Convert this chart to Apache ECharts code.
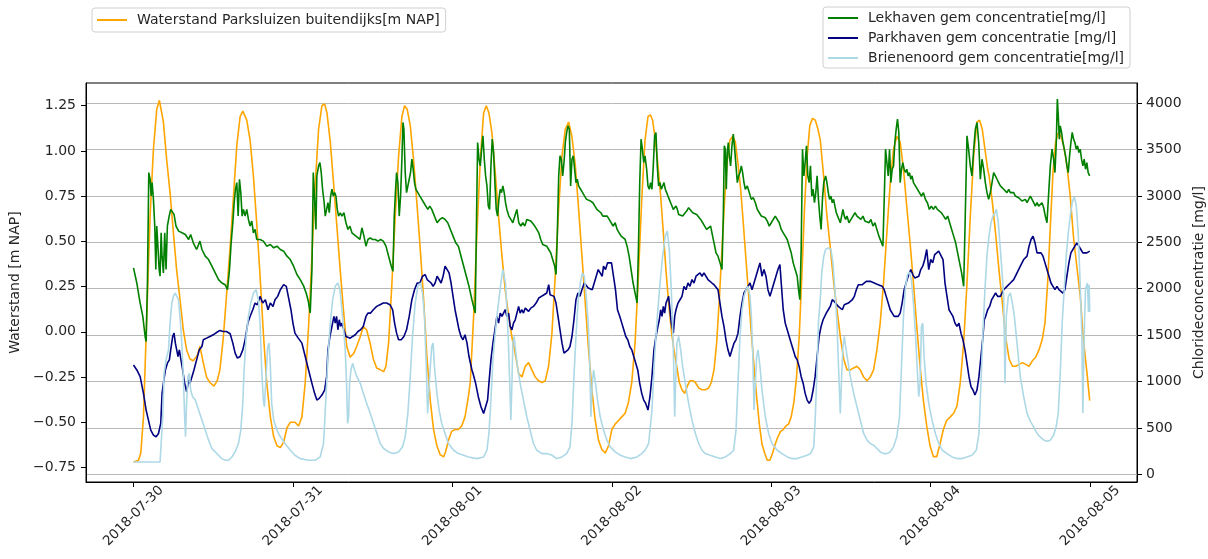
<!DOCTYPE html>
<html>
<head>
<meta charset="utf-8">
<script src="https://cdn.jsdelivr.net/npm/echarts@6/dist/echarts.min.js"></script>
<style>
  html, body { margin: 0; padding: 0; background: #ffffff; }
  #chart { width: 1208px; height: 559px; }
</style>
</head>
<body>
<div id="chart"></div>
<script>
// Time is given in hours after 2018-07-30 00:00.
const dayLabels = ['2018-07-30', '2018-07-31', '2018-08-01', '2018-08-02', '2018-08-03', '2018-08-04', '2018-08-05'];
const levelTicks = [-0.75, -0.5, -0.25, 0, 0.25, 0.5, 0.75, 1.0, 1.25];
const chlorideTicks = [0, 500, 1000, 1500, 2000, 2500, 3000, 3500, 4000];

const seriesNames = [
  'Waterstand Parksluizen buitendijks[m NAP]',
  'Lekhaven gem concentratie[mg/l]',
  'Parkhaven gem concentratie [mg/l]',
  'Brienenoord gem concentratie[mg/l]'
];

// Water level Parksluizen [m NAP]
const waterstand = [
  [0,-0.72],[0.75,-0.71],[1.1,-0.67],[1.5,-0.47],[2.0,0.09],[2.5,0.64],[3.0,1.01],[3.5,1.23],[3.9,1.28],[4.5,1.16],[5.0,0.95],[5.5,0.77],[6.0,0.55],[6.5,0.34],[7.0,0.18],[7.5,0.01],[8.0,-0.10],[8.5,-0.15],[9.0,-0.16],[9.6,-0.13],[10.0,-0.08],[10.5,-0.17],[11.0,-0.25],[11.5,-0.28],[12.1,-0.30],[12.6,-0.27],[13.0,-0.21],[13.5,-0.04],[14.0,0.20],[14.55,0.47],[15.05,0.75],[15.55,1.03],[16.05,1.19],[16.45,1.22],[17.05,1.17],[17.55,1.06],[18.05,0.86],[18.55,0.60],[19.05,0.31],[19.55,-0.01],[20.05,-0.28],[20.6,-0.47],[21.1,-0.58],[21.6,-0.63],[22.1,-0.64],[22.6,-0.61],[23.1,-0.53],[23.6,-0.50],[24.3,-0.50],
  [24.85,-0.52],[25.35,-0.47],[25.85,-0.28],[26.35,0.03],[26.86,0.42],[27.36,0.82],[27.86,1.12],[28.36,1.25],[28.77,1.26],[29.12,1.21],[29.62,1.05],[30.12,0.82],[30.62,0.58],[31.12,0.34],[31.6,0.12],[32.1,-0.08],[32.6,-0.14],[33.13,-0.12],[33.6,-0.08],[34.1,-0.03],[34.6,0.03],[35.1,0.01],[35.6,-0.06],[36.1,-0.15],[36.6,-0.20],[37.15,-0.21],[37.65,-0.22],[38.0,-0.19],[38.4,-0.06],[38.9,0.27],[39.4,0.64],[39.9,0.97],[40.4,1.19],[40.8,1.25],[41.2,1.23],[41.66,1.14],[42.16,0.95],[42.66,0.71],[43.16,0.46],[43.67,0.18],[44.17,-0.14],[44.67,-0.38],[45.17,-0.54],[45.67,-0.63],[46.17,-0.68],[46.7,-0.69],[47.0,-0.66],[47.4,-0.60],[47.9,-0.55],[48.4,-0.54],[48.9,-0.54],[49.4,-0.52],[49.9,-0.47],[50.4,-0.36],
  [50.69,-0.28],[51.2,0.09],[51.7,0.55],[52.2,0.95],[52.7,1.21],[53.1,1.25],[53.5,1.21],[53.95,1.10],[54.45,0.88],[54.95,0.64],[55.46,0.42],[55.96,0.23],[56.46,0.09],[56.96,-0.03],[57.46,-0.12],[57.97,-0.23],[58.47,-0.25],[58.97,-0.19],[59.47,-0.17],[59.97,-0.21],[60.47,-0.25],[60.98,-0.27],[61.48,-0.28],[61.98,-0.27],[62.48,-0.19],[62.98,-0.01],[63.48,0.31],[63.99,0.68],[64.49,0.97],[64.99,1.12],[65.49,1.16],[65.99,1.08],[66.5,0.92],[67.0,0.68],[67.5,0.42],[68.0,0.16],[68.5,-0.10],[69.0,-0.32],[69.5,-0.49],[70.0,-0.60],[70.5,-0.65],[71.0,-0.67],[71.5,-0.63],[72.0,-0.54],[72.5,-0.51],[73.0,-0.49],[73.5,-0.47],[74.0,-0.45],[74.5,-0.39],[75.0,-0.28],[75.5,-0.06],[76.0,0.31],[76.5,0.73],[77.0,1.06],
  [77.44,1.19],[77.8,1.20],[78.14,1.17],[78.55,1.06],[78.95,0.92],[79.35,0.75],[79.75,0.55],[80.15,0.34],[80.55,0.16],[80.95,0.01],[81.35,-0.10],[81.76,-0.19],[82.16,-0.28],[82.56,-0.32],[82.96,-0.34],[83.36,-0.30],[83.76,-0.27],[84.17,-0.27],[84.57,-0.28],[85.07,-0.31],[85.57,-0.32],[86.07,-0.32],[86.57,-0.31],[86.97,-0.28],[87.38,-0.21],[87.78,-0.06],[88.18,0.18],[88.58,0.46],[88.98,0.73],[89.38,0.95],[89.78,1.06],[90.19,1.08],[90.59,1.05],[90.99,0.93],[91.39,0.79],[91.79,0.60],[92.19,0.40],[92.6,0.20],[93.0,-0.01],[93.4,-0.19],[93.8,-0.36],[94.2,-0.51],[94.6,-0.62],[95.0,-0.67],[95.4,-0.71],[95.8,-0.71],[96.2,-0.67],[96.6,-0.62],[97.0,-0.58],[97.4,-0.55],[97.8,-0.54],[98.2,-0.52],[98.6,-0.51],[99.0,-0.47],[99.4,-0.39],[99.8,-0.25],[100.2,-0.03],[100.6,0.31],[101.0,0.68],[101.4,0.97],[101.8,1.14],[102.2,1.18],[102.63,1.17],[103.03,1.12],
  [103.38,1.06],[103.88,0.86],[104.38,0.64],[104.9,0.46],[105.4,0.27],[105.9,0.12],[106.4,-0.03],[106.9,-0.15],[107.4,-0.21],[107.9,-0.21],[108.4,-0.20],[108.9,-0.19],[109.4,-0.21],[109.9,-0.25],[110.4,-0.27],[110.9,-0.25],[111.4,-0.21],[111.9,-0.10],[112.4,0.05],[112.9,0.27],[113.4,0.55],[113.9,0.82],[114.4,1.01],[114.9,1.08],[115.4,1.05],[115.9,0.90],[116.4,0.69],[116.9,0.49],[117.4,0.27],[117.9,0.03],[118.4,-0.19],[118.9,-0.38],[119.4,-0.52],[119.9,-0.63],[120.4,-0.69],[120.9,-0.69],[121.4,-0.62],[121.9,-0.54],[122.4,-0.49],[122.95,-0.47],[123.45,-0.45],[123.95,-0.41],[124.45,-0.28],[124.96,-0.06],[125.46,0.27],[125.96,0.64],[126.46,0.97],[126.96,1.16],[127.36,1.17],[127.76,1.12],[128.16,1.01],[128.57,0.90],
  [128.8,0.86],[129.3,0.71],[129.8,0.53],[130.28,0.34],[130.78,0.16],[131.28,-0.03],[131.8,-0.15],[132.3,-0.19],[132.8,-0.19],[133.3,-0.18],[133.8,-0.17],[134.3,-0.18],[134.8,-0.19],[135.3,-0.16],[135.8,-0.14],[136.3,-0.10],[136.8,-0.04],[137.2,0.05],[137.6,0.27],[138.0,0.58],[138.4,0.88],[138.8,1.05],[139.2,1.10],[139.6,1.08],[140.0,1.03],[140.5,0.92],[141.0,0.75],[141.5,0.52],[142.0,0.36],[142.5,0.20],[143.0,-0.05],[143.5,-0.22],[143.93,-0.38]
];

// Chloride Lekhaven [mg/l]
const lekhaven = [
  [0,2224],[0.5,2061],[1.0,1845],[1.4,1701],[1.75,1485],[1.9,1431],[2.1,2061],[2.3,3251],[2.5,3179],[2.66,2998],[2.8,3143],[3.0,2962],[3.2,2674],[3.36,2206],[3.5,2674],[3.7,2422],[3.86,2206],[4.0,2134],[4.16,2602],[4.3,2350],[4.5,2170],[4.7,2602],[4.9,2206],[5.1,2674],[5.37,2782],[5.6,2854],[5.87,2872],[6.1,2800],[6.4,2674],[6.8,2620],[7.3,2602],[7.8,2584],[8.3,2530],[8.6,2584],[9.0,2494],[9.5,2422],[10.0,2512],[10.3,2422],[10.8,2350],[11.3,2314],[11.8,2242],[12.3,2170],[12.8,2098],[13.3,2061],[13.8,2043],[14.15,1989],[14.45,2206],[14.7,2494],[14.95,2710],[15.15,2926],[15.35,3071],[15.55,3143],[15.75,2782],[15.95,3179],[16.15,3035],[16.35,2782],[16.55,2854],[16.8,2782],[17.05,2854],[17.3,2746],[17.55,2674],[17.8,2728],[18.05,2602],[18.3,2638],[18.55,2530],[19.05,2530],[19.55,2512],[20.05,2458],[20.6,2476],[21.1,2440],[21.6,2458],[22.1,2422],[22.6,2404],[23.1,2350],[23.6,2314],[24.1,2242],
  [24.6,2152],[25.1,2098],[25.6,2030],[26.0,1950],[26.3,1870],[26.6,1737],[26.86,2206],[27.06,3251],[27.26,2962],[27.46,2638],[27.6,3215],[27.86,3323],[28.06,3359],[28.26,3251],[28.46,3071],[28.7,2926],[28.86,2782],[29.07,2854],[29.27,2926],[29.47,2818],[29.67,2998],[29.87,3071],[30.07,2998],[30.27,3035],[30.47,2998],[30.67,2854],[30.87,2782],[31.12,2818],[31.37,2782],[31.67,2818],[31.98,2710],[32.28,2638],[32.58,2674],[32.88,2602],[33.18,2620],[33.48,2566],[33.78,2584],[34.08,2530],[34.38,2656],[34.69,2566],[34.99,2458],[35.29,2530],[35.64,2548],[35.99,2530],[36.39,2530],[36.8,2512],[37.2,2530],[37.6,2512],[38.0,2458],[38.4,2350],[38.8,2242],[39.05,2188],[39.25,2782],[39.45,3071],[39.6,3251],[39.8,3143],[40.0,2782],[40.2,2998],[40.4,3395],[40.56,3791],[40.7,3719],[40.9,3251],[41.1,3035],[41.3,3107],[41.5,3179],[41.7,3251],[41.9,3395],[42.1,3287],[42.3,3143],[42.5,3071],[42.8,3035],[43.1,2998],[43.4,2962],[43.7,2926],[44.0,2890],[44.3,2854],[44.6,2890],[44.9,2854],[45.3,2782],[45.7,2710],[46.1,2746],[46.5,2764],[46.9,2746],[47.3,2710],[47.7,2638],[48.1,2566],[48.5,2494],[48.9,2458],[49.3,2350],[49.7,2242],[50.1,2134],[50.5,2025],[50.94,1881],[51.44,1737],
  [51.64,2782],[51.8,3575],[52.0,3395],[52.2,3323],[52.4,3503],[52.6,3647],[52.8,3395],[53.0,3215],[53.2,3107],[53.4,2890],[53.6,2854],[53.8,3323],[54.0,3611],[54.2,3467],[54.4,3143],[54.6,2854],[54.8,2782],[55.0,2962],[55.2,3071],[55.4,3035],[55.6,3107],[55.8,3035],[56.0,2926],[56.2,2854],[56.5,2782],[56.8,2746],[57.1,2710],[57.4,2782],[57.7,2854],[58.0,2710],[58.3,2674],[58.6,2710],[58.9,2674],[59.2,2746],[59.5,2764],[59.8,2728],[60.1,2710],[60.4,2674],[60.7,2638],[61.0,2602],[61.3,2530],[61.6,2476],[61.9,2494],[62.2,2458],[62.5,2422],[62.8,2386],[63.1,2314],[63.4,2242],[63.6,2152],[63.8,2602],[64.0,3215],[64.2,3431],[64.4,3395],[64.6,3215],[64.8,3359],[65.0,3575],[65.2,3683],[65.4,3755],[65.6,3719],[65.8,3107],[66.0,3395],[66.2,3431],[66.4,3287],[66.6,3143],[66.8,3179],[67.0,3107],[67.3,3071],[67.6,3035],[67.9,2998],[68.2,2962],[68.5,2980],[68.8,2944],[69.15,2926],[69.45,2890],[69.75,2854],[70.05,2854],[70.35,2818],[70.65,2782],[70.95,2764],[71.3,2782],[71.6,2746],[71.9,2710],[72.2,2674],[72.5,2710],[72.8,2638],[73.1,2602],[73.4,2566],[73.7,2566],[74.0,2530],[74.3,2458],[74.6,2350],[74.9,2206],[75.2,2061],[75.5,1953],[75.8,1845],[76.0,2422],[76.2,3143],[76.4,3611],[76.6,3503],[76.8,3359],[77.0,3431],
  [77.24,3287],[77.44,3107],[77.64,3071],[77.84,3143],[78.04,3071],[78.24,3323],[78.44,3647],[78.64,3683],[78.84,3323],[79.04,3107],[79.24,3143],[79.45,3071],[79.65,3107],[79.85,3143],[80.05,3071],[80.25,3035],[80.45,2998],[80.65,2962],[80.85,2926],[81.05,2890],[81.25,2854],[81.45,2836],[81.66,2890],[81.86,2854],[82.06,2800],[82.36,2818],[82.66,2782],[82.96,2800],[83.26,2836],[83.56,2872],[83.86,2854],[84.17,2818],[84.47,2836],[84.77,2800],[85.07,2782],[85.37,2746],[85.67,2710],[85.97,2674],[86.27,2638],[86.57,2620],[86.87,2674],[87.07,2602],[87.38,2494],[87.68,2386],[87.98,2350],[88.28,2278],[88.58,2206],[88.78,2782],[88.93,3539],[89.08,3503],[89.23,3071],[89.38,3467],[89.53,3575],[89.68,3431],[89.88,3323],[90.08,3539],[90.28,3665],[90.49,3503],[90.69,3323],[90.89,3143],[91.09,3215],[91.29,3251],[91.49,3323],[91.69,3251],[91.89,3143],[92.09,3071],[92.39,3107],[92.69,3035],[92.99,2962],[93.3,2980],[93.6,2926],[93.9,2854],[94.2,2818],[94.5,2782],[94.8,2800],[95.1,2764],[95.4,2728],[95.7,2674],[96.0,2710],[96.3,2746],[96.6,2782],[96.9,2764],[97.2,2710],[97.5,2638],[97.8,2602],[98.1,2566],[98.4,2530],[98.7,2458],[99.0,2386],[99.3,2278],[99.6,2206],[99.9,2134],[100.1,1989],[100.3,1881],[100.5,2422],[100.7,3503],[100.9,3215],[101.1,3359],[101.3,3539],[101.5,3215],[101.7,3143],[101.9,3323],[102.1,2998],[102.3,3071],[102.5,2926],[102.7,3035],[102.9,3215],[103.1,2962],[103.3,2782],[103.5,2638],[103.7,2962],[103.9,3143],
  [104.18,3215],[104.38,3143],[104.58,3035],[104.78,2962],[104.98,2998],[105.18,2926],[105.38,2962],[105.58,2890],[105.79,2818],[105.99,2782],[106.19,2746],[106.39,2710],[106.59,2782],[106.79,2854],[106.99,2782],[107.19,2746],[107.39,2782],[107.7,2710],[108.0,2746],[108.3,2782],[108.6,2818],[108.9,2782],[109.2,2800],[109.5,2746],[109.8,2782],[110.1,2728],[110.4,2746],[110.7,2710],[111.0,2746],[111.3,2674],[111.6,2710],[111.9,2638],[112.2,2566],[112.5,2512],[112.8,2458],[113.0,2962],[113.2,3503],[113.4,3359],[113.6,3215],[113.8,3503],[114.0,3143],[114.2,3287],[114.4,3323],[114.6,3575],[114.8,3719],[115.0,3827],[115.2,3683],[115.4,3143],[115.6,3287],[115.8,3359],[116.0,3287],[116.2,3251],[116.4,3287],[116.6,3215],[116.8,3251],[117.0,3179],[117.2,3215],[117.4,3143],[117.7,3107],[118.0,3071],[118.3,3035],[118.6,2998],[118.9,3035],[119.2,2962],[119.5,2926],[119.8,2854],[120.1,2890],[120.4,2854],[120.7,2890],[121.0,2854],[121.3,2872],[121.6,2818],[121.95,2782],[122.25,2746],[122.55,2782],[122.85,2710],[123.15,2638],[123.45,2566],[123.75,2494],[124.05,2386],[124.35,2278],[124.65,2170],[124.96,2025],
  [125.2,2782],[125.46,3647],[125.7,3503],[125.96,3323],[126.2,3215],[126.47,3503],[126.72,3719],[126.97,3791],[127.22,3575],[127.47,3179],[127.72,3395],[127.97,3287],[128.22,3143],[128.47,3035],[128.72,2962],[128.97,3035],[129.23,3143],[129.48,3251],[129.73,3215],[129.98,3179],[130.23,3143],[130.48,3107],[130.73,3125],[130.98,3071],[131.23,3071],[131.48,3035],[131.74,3071],[131.99,3035],[132.24,3017],[132.49,3035],[132.74,2998],[132.99,2998],[133.24,2980],[133.49,2962],[133.74,2944],[133.99,2926],[134.24,2962],[134.5,2926],[134.75,2962],[135.0,2998],[135.25,2962],[135.5,2926],[135.75,2890],[136.0,2926],[136.25,2890],[136.5,2908],[136.75,2926],[137.0,2872],[137.25,2782],[137.5,2710],[137.76,3035],[138.0,3323],[138.26,3503],[138.5,3395],[138.7,3251],[138.9,3575],[139.06,4044],[139.2,3863],[139.36,3611],[139.5,3755],[139.7,3683],[139.9,3575],[140.1,3503],[140.3,3431],[140.5,3323],[140.7,3251],[140.9,3431],[141.1,3575],[141.3,3683],[141.5,3611],[141.7,3575],[141.9,3503],[142.1,3539],[142.3,3467],[142.5,3503],[142.7,3395],[142.9,3323],[143.1,3395],[143.3,3287],[143.5,3359],[143.7,3251],[143.93,3215]
];

// Chloride Parkhaven [mg/l]
const parkhaven = [
  [0,1178],[0.5,1124],[1.0,1052],[1.5,872],[1.9,692],[2.25,584],[2.6,476],[3.0,422],[3.4,404],[3.76,440],[4.1,548],[4.3,872],[4.5,980],[4.8,1124],[5.1,1197],[5.4,1233],[5.6,1341],[5.9,1485],[6.1,1521],[6.3,1413],[6.5,1341],[6.7,1269],[6.9,1341],[7.1,1251],[7.4,1124],[7.7,980],[8.0,890],[8.3,1016],[8.5,980],[8.8,1052],[9.1,1124],[9.5,1233],[9.9,1341],[10.3,1377],[10.5,1449],[11.0,1467],[11.5,1485],[12.0,1503],[12.5,1528],[13.0,1550],[13.5,1539],[14.0,1539],[14.55,1514],[14.95,1413],[15.3,1305],[15.65,1251],[16.05,1269],[16.45,1341],[16.8,1449],[17.2,1629],[17.55,1701],[17.95,1773],[18.3,1845],[18.65,1827],[19.05,1917],[19.45,1845],[19.85,1881],[20.25,1773],[20.6,1845],[21.0,1809],[21.3,1881],[21.7,1917],[22.1,1989],[22.6,2043],[23.0,2025],[23.3,1917],[23.7,1773],[24.0,1629],[24.3,1521],[24.8,1467],
  [25.35,1413],[25.85,1269],[26.35,1124],[26.86,980],[27.26,872],[27.6,800],[27.96,818],[28.36,854],[28.77,908],[29.07,1052],[29.27,1341],[29.57,1485],[29.87,1593],[30.17,1701],[30.37,1629],[30.57,1701],[30.77,1557],[30.97,1665],[31.17,1593],[31.37,1629],[31.67,1557],[31.98,1485],[32.28,1467],[32.63,1467],[32.98,1485],[33.38,1503],[33.78,1539],[34.18,1557],[34.58,1593],[34.99,1701],[35.29,1737],[35.69,1737],[36.1,1773],[36.6,1809],[37.1,1827],[37.6,1845],[38.1,1845],[38.6,1827],[39.0,1773],[39.3,1629],[39.6,1521],[39.9,1449],[40.3,1449],[40.7,1485],[41.1,1557],[41.5,1701],[41.9,1881],[42.3,1989],[42.7,2061],[43.1,2061],[43.5,2134],[43.9,2152],[44.2,2098],[44.5,2116],[44.8,2061],[45.1,2025],[45.4,2061],[45.7,2134],[46.0,2134],[46.3,2061],[46.6,2134],[46.9,2242],[47.2,2260],[47.5,2170],[47.8,2061],[48.1,1917],[48.4,1773],[48.7,1665],[49.0,1557],[49.3,1485],[49.6,1449],[49.9,1503],[50.2,1413],[50.5,1269],[50.94,1124],
  [51.1,1088],[51.5,980],[51.9,836],[52.3,728],[52.7,656],[53.0,674],[53.3,800],[53.5,980],[53.8,1233],[54.1,1413],[54.4,1557],[54.7,1701],[54.95,1629],[55.2,1737],[55.46,1701],[55.7,1737],[55.96,1773],[56.2,1701],[56.46,1737],[56.7,1593],[56.96,1557],[57.2,1629],[57.46,1665],[57.7,1683],[57.97,1809],[58.2,1737],[58.47,1773],[58.7,1737],[58.97,1791],[59.2,1773],[59.47,1755],[59.8,1791],[60.2,1809],[60.6,1845],[61.0,1899],[61.4,1917],[61.8,1935],[62.2,1953],[62.5,2043],[62.7,1935],[63.0,1953],[63.3,1917],[63.6,1845],[63.9,1701],[64.2,1557],[64.5,1413],[64.8,1305],[65.1,1305],[65.4,1341],[65.7,1377],[66.0,1485],[66.3,1665],[66.6,1881],[66.9,1953],[67.2,1917],[67.5,1989],[67.85,2061],[68.15,2043],[68.45,2007],[68.75,1989],[69.05,1989],[69.35,2061],[69.65,2134],[69.95,2206],[70.25,2206],[70.55,2134],[70.75,2242],[71.05,2206],[71.35,2278],[71.65,2296],[71.95,2278],[72.25,2278],[72.55,1989],[72.85,1773],[73.2,1701],[73.5,1629],[73.8,1557],[74.1,1485],[74.4,1449],[74.7,1377],[75.0,1341],[75.3,1269],[75.6,1197],[75.9,1124],[76.2,980],[76.5,872],[76.8,800],[77.1,764],
  [77.44,692],[77.74,836],[78.04,1052],[78.34,1341],[78.64,1485],[78.94,1593],[79.15,1665],[79.35,1773],[79.55,1701],[79.75,1809],[79.95,1737],[80.15,1845],[80.35,1881],[80.55,1917],[80.75,1773],[80.95,1629],[81.26,1521],[81.46,1701],[81.66,1773],[81.96,1845],[82.26,1881],[82.56,1917],[82.86,2025],[83.16,1989],[83.46,2061],[83.76,2025],[84.06,2098],[84.37,2061],[84.67,2134],[84.97,2152],[85.27,2170],[85.57,2134],[85.87,2170],[86.17,2134],[86.47,2098],[86.77,2079],[87.07,2061],[87.38,2043],[87.68,2061],[87.98,1989],[88.28,1845],[88.58,1701],[88.88,1593],[89.18,1449],[89.48,1341],[89.78,1269],[90.08,1341],[90.39,1413],[90.69,1449],[90.99,1521],[91.29,1701],[91.59,1845],[91.89,1953],[92.19,1989],[92.5,2025],[92.8,2061],[93.1,1989],[93.4,2061],[93.7,2134],[94.0,2206],[94.3,2278],[94.6,2134],[94.9,2206],[95.2,2134],[95.5,1989],[95.8,1917],[96.1,1989],[96.4,2061],[96.7,2134],[97.0,2206],[97.3,2260],[97.5,2061],[97.8,1773],[98.1,1629],[98.4,1557],[98.7,1485],[99.0,1413],[99.3,1341],[99.6,1269],[99.9,1233],[100.2,1160],[100.5,1052],[100.8,980],[101.1,872],[101.4,800],[101.7,764],[102.0,800],[102.3,908],[102.6,1052],[102.9,1269],[103.2,1485],[103.5,1593],[103.8,1665],
  [104.28,1737],[104.58,1773],[104.88,1809],[105.18,1881],[105.49,1863],[105.79,1845],[106.09,1809],[106.39,1791],[106.69,1773],[106.99,1827],[107.29,1809],[107.6,1845],[107.9,1827],[108.2,1881],[108.5,1917],[108.8,1989],[109.1,2043],[109.4,2061],[109.7,2043],[110.0,2061],[110.3,2079],[110.6,2098],[110.9,2079],[111.2,2079],[111.5,2061],[111.8,2061],[112.1,2043],[112.4,2025],[112.7,2025],[113.0,1989],[113.3,1917],[113.6,1845],[113.9,1773],[114.2,1737],[114.5,1701],[114.8,1683],[115.1,1701],[115.4,1737],[115.7,1845],[116.0,1989],[116.3,2061],[116.6,2134],[116.8,2152],[117.0,2206],[117.3,2152],[117.6,2116],[117.9,2098],[118.2,2134],[118.5,2206],[118.8,2242],[119.1,2314],[119.4,2422],[119.7,2206],[120.0,2314],[120.3,2278],[120.6,2368],[120.9,2350],[121.2,2404],[121.5,2386],[121.85,2314],[122.15,2061],[122.45,1917],[122.75,1773],[123.05,1737],[123.35,1701],[123.65,1629],[123.95,1593],[124.25,1629],[124.55,1521],[124.85,1449],[125.16,1341],[125.46,1197],[125.76,1052],[126.06,944],[126.36,908],[126.66,854],[126.96,908],[127.26,1052],[127.56,1269],[127.86,1485],[128.06,1665],[128.26,1701],[128.57,1773],[128.87,1809],[129.17,1881],[129.47,1917],[129.77,1953],[130.07,1917],
  [130.48,1917],[130.98,1989],[131.48,2025],[131.99,2061],[132.49,2098],[132.99,2170],[133.49,2242],[133.99,2314],[134.5,2350],[134.8,2458],[135.1,2530],[135.4,2566],[135.7,2494],[136.0,2386],[136.3,2368],[136.6,2386],[136.9,2350],[137.2,2278],[137.5,2206],[137.8,2134],[138.1,2061],[138.4,2025],[138.7,1989],[139.0,2025],[139.3,1989],[139.6,2007],[139.9,1953],[140.2,1989],[140.5,2134],[140.8,2278],[141.1,2386],[141.4,2422],[141.7,2440],[142.0,2494],[142.3,2458],[142.6,2422],[142.9,2386],[143.2,2368],[143.5,2386],[143.93,2404]
];

// Chloride Brienenoord [mg/l]
const brienenoord = [
  [0,133],[1,133],[2,133],[3,133],[4,133],[4.26,151],[4.4,620],[4.6,1088],[4.9,1233],[5.27,1341],[5.5,1629],[5.77,1845],[6.0,1917],[6.27,1953],[6.5,1971],[6.77,1881],[7.0,1701],[7.27,1413],[7.5,1052],[7.7,620],[7.83,404],[8.0,800],[8.2,1052],[8.4,1088],[8.6,908],[8.9,836],[9.3,800],[9.8,692],[10.3,584],[10.8,476],[11.3,368],[11.8,278],[12.3,241],[12.8,205],[13.3,169],[13.8,151],[14.3,151],[14.8,187],[15.3,241],[15.8,332],[16.15,476],[16.45,764],[16.65,1124],[16.95,1485],[17.3,1701],[17.65,1845],[18.05,1953],[18.45,1989],[18.8,1881],[19.05,1629],[19.3,1124],[19.55,800],[19.7,728],[19.9,980],[20.2,1377],[20.4,1413],[20.6,1160],[20.8,764],[21.1,584],[21.6,476],[22.1,404],[22.8,332],[23.6,259],[24.3,205],[25.1,169],
  [26.35,151],[27.36,151],[28.1,187],[28.6,332],[28.95,800],[29.27,1269],[29.62,1629],[29.97,1881],[30.37,2025],[30.77,2061],[31.07,1989],[31.37,1773],[31.67,1521],[31.87,1341],[32.07,980],[32.23,548],[32.38,620],[32.53,980],[32.73,1124],[32.98,1197],[33.28,1124],[33.63,1052],[34.13,980],[34.6,872],[35.1,764],[35.64,656],[36.14,548],[36.64,440],[37.15,332],[37.65,278],[38.4,241],[39.15,223],[39.9,241],[40.5,296],[40.9,404],[41.3,656],[41.66,1052],[42.0,1485],[42.4,1845],[42.8,2025],[43.2,2061],[43.5,1953],[43.8,1701],[44.07,1160],[44.27,656],[44.4,656],[44.67,1160],[44.9,1377],[45.1,1413],[45.3,1160],[45.67,872],[46.0,692],[46.4,548],[46.9,440],[47.4,332],[48.2,259],[48.9,223],[49.7,205],[50.4,187],
  [51.7,169],[52.7,187],[53.2,259],[53.5,440],[53.8,800],[54.1,1233],[54.4,1485],[54.7,1701],[55.0,1881],[55.3,2061],[55.6,2206],[55.8,2224],[56.0,2061],[56.2,1773],[56.4,1485],[56.6,1052],[56.8,584],[56.96,980],[57.1,1413],[57.3,1485],[57.5,1341],[57.8,1160],[58.2,980],[58.7,800],[59.2,620],[59.7,476],[60.2,332],[60.7,259],[61.5,223],[62.2,223],[63.0,205],[63.7,169],[64.5,187],[65.2,223],[65.7,296],[66.0,548],[66.3,1052],[66.6,1485],[66.9,1845],[67.25,2061],[67.55,2170],[67.85,2134],[68.15,1917],[68.45,1629],[68.65,1269],[68.85,620],[69.05,980],[69.25,1124],[69.55,980],[69.85,800],[70.25,620],[70.75,476],[71.26,368],[71.76,296],[72.5,241],[73.3,205],[74.0,187],[74.8,169],[75.8,187],[76.5,223],[77.0,259],[77.54,332],
  [78.04,692],[78.44,1269],[78.85,1701],[79.25,2061],[79.65,2350],[80.05,2566],[80.35,2620],[80.65,2422],[80.95,1989],[81.26,1341],[81.46,620],[81.6,980],[81.8,1413],[82.06,1485],[82.36,1341],[82.66,1160],[83.06,980],[83.56,764],[84.06,584],[84.57,440],[85.07,332],[85.57,259],[86.07,223],[86.82,205],[87.58,187],[88.33,169],[89.08,187],[89.83,223],[90.34,259],[90.69,476],[90.99,980],[91.29,1485],[91.59,1773],[91.89,1917],[92.19,1989],[92.5,2025],[92.8,1917],[93.0,1701],[93.2,1341],[93.4,692],[93.6,980],[93.8,1269],[94.0,1341],[94.3,1160],[94.6,908],[95.1,620],[95.6,440],[96.1,332],[96.9,259],[97.6,223],[98.4,187],[99.1,169],[99.9,169],[100.6,187],[101.4,205],[101.9,223],[102.4,296],[102.63,620],[102.9,1160],[103.1,1629],[103.4,1917],[103.6,2170],[103.9,2350],
  [104.18,2422],[104.58,2440],[104.98,2422],[105.28,2278],[105.58,1989],[105.89,1629],[106.14,1124],[106.39,656],[106.59,1052],[106.79,1377],[106.99,1485],[107.19,1377],[107.5,1233],[107.9,1052],[108.4,872],[108.9,728],[109.4,584],[109.9,440],[110.4,368],[110.9,332],[111.4,314],[111.9,278],[112.4,241],[112.9,223],[113.4,223],[113.9,241],[114.4,296],[114.9,404],[115.3,620],[115.6,1160],[115.9,1701],[116.2,2020],[116.5,2150],[116.8,2180],[117.1,2090],[117.4,1845],[117.7,1521],[118.0,1088],[118.2,836],[118.4,980],[118.6,1593],[118.8,1629],[119.0,1269],[119.3,980],[119.7,764],[120.2,584],[120.7,440],[121.2,332],[121.75,259],[122.45,223],[123.2,187],[123.95,169],[124.7,169],[125.46,187],[126.2,205],[126.86,259],[127.26,440],[127.56,980],[127.86,1521],[128.16,1989],[128.46,2350],[128.77,2566],[129.07,2710],[129.37,2782],[129.67,2818],[129.88,2854],
  [130.18,2710],[130.48,2422],[130.78,2134],[130.98,1917],[131.18,980],[131.38,1701],[131.68,1917],[131.99,1953],[132.29,1845],[132.59,1701],[132.99,1413],[133.49,1050],[133.99,836],[134.5,656],[135.0,570],[135.5,510],[136.0,440],[136.5,400],[137.0,370],[137.5,355],[138.0,368],[138.5,420],[138.9,520],[139.2,660],[139.5,1100],[139.8,1650],[140.1,2000],[140.4,2350],[140.7,2600],[141.0,2780],[141.3,2930],[141.6,2990],[141.9,2900],[142.2,2600],[142.5,2050],[142.75,1500],[142.9,660],[143.1,1500],[143.3,2000],[143.6,2061],[143.75,1750],[143.85,2040],[143.93,1750]
];

const dejavu = 'DejaVu Sans';
const textColor = '#262626';
const fontSize = 14;

const chart = echarts.init(document.getElementById('chart'), null, { renderer: 'canvas' });

function levelLabel(v) {
  return v.toFixed(2).replace('-', '\u2212');
}

const legendBase = {
  icon: 'rect',
  itemWidth: 30,
  itemHeight: 2,
  selectedMode: false,
  borderColor: '#d0d0d0',
  borderWidth: 1,
  borderRadius: 3,
  backgroundColor: 'rgba(255,255,255,0.85)',
  textStyle: { fontFamily: dejavu, fontSize: fontSize, color: textColor, padding: [0, 0, 0, 5] }
};

const option = {
  animation: false,
  backgroundColor: '#ffffff',
  grid: {
    left: 86, right: 71, top: 83, bottom: 77,
    outerBoundsMode: 'none',
    containLabel: false,
    show: true, borderColor: '#000000', borderWidth: 1, backgroundColor: '#ffffff'
  },
  legend: [
    Object.assign({}, legendBase, {
      data: [seriesNames[0]],
      left: 92, top: 8,
      orient: 'horizontal',
      padding: [5, 6, 5, 5]
    }),
    Object.assign({}, legendBase, {
      data: [seriesNames[1], seriesNames[2], seriesNames[3]],
      right: 78, top: 7,
      orient: 'vertical',
      itemGap: 6,
      padding: [4, 6, 3, 5]
    })
  ],
  xAxis: {
    type: 'value',
    min: -7.15,
    max: 151.05,
    axisLine: { show: true, onZero: false, lineStyle: { color: '#000000', width: 1 } },
    axisTick: {
      show: true, length: 5, inside: false,
      customValues: dayLabels.map((_, i) => i * 24),
      lineStyle: { color: '#000000', width: 1 }
    },
    axisLabel: {
      customValues: dayLabels.map((_, i) => i * 24),
      formatter: v => dayLabels[Math.round(v / 24)],
      rotate: 45,
      align: 'center',
      verticalAlign: 'middle',
      margin: 34,
      fontFamily: dejavu,
      fontSize: 13.5,
      color: textColor
    },
    splitLine: { show: false }
  },
  yAxis: [
    {
      type: 'value',
      position: 'left',
      min: -0.830,
      max: 1.3756,
      name: 'Waterstand [m NAP]',
      nameLocation: 'middle',
      nameGap: 61,
      nameRotate: 90,
      nameTextStyle: { fontFamily: dejavu, fontSize: fontSize, color: textColor },
      axisLine: { show: true, onZero: false, lineStyle: { color: '#000000', width: 1 } },
      axisTick: { show: true, length: 5, customValues: levelTicks, lineStyle: { color: '#000000' } },
      axisLabel: {
        customValues: levelTicks,
        formatter: levelLabel,
        margin: 10,
        fontFamily: dejavu,
        fontSize: fontSize,
        color: textColor
      },
      splitLine: { show: false }
    },
    {
      type: 'value',
      position: 'right',
      min: -83,
      max: 4216,
      name: 'Chlorideconcentratie [mg/l]',
      nameLocation: 'middle',
      nameGap: 52,
      nameRotate: 90,
      nameTextStyle: { fontFamily: dejavu, fontSize: fontSize, color: textColor },
      axisLine: { show: true, onZero: false, lineStyle: { color: '#000000', width: 1 } },
      axisTick: { show: true, length: 5, customValues: chlorideTicks, lineStyle: { color: '#000000' } },
      axisLabel: {
        customValues: chlorideTicks,
        formatter: v => String(v),
        margin: 9,
        fontFamily: dejavu,
        fontSize: fontSize,
        color: textColor
      },
      splitLine: { show: true, lineStyle: { color: '#b8b8b8', width: 1 } }
    }
  ],
  series: [
    {
      name: seriesNames[0], type: 'line', yAxisIndex: 0, data: waterstand,
      showSymbol: false, symbol: 'none',
      lineStyle: { color: '#FFA500', width: 1.6 }, itemStyle: { color: '#FFA500' }
    },
    {
      name: seriesNames[1], type: 'line', yAxisIndex: 1, data: lekhaven,
      showSymbol: false, symbol: 'none',
      lineStyle: { color: '#008000', width: 1.6 }, itemStyle: { color: '#008000' }
    },
    {
      name: seriesNames[2], type: 'line', yAxisIndex: 1, data: parkhaven,
      showSymbol: false, symbol: 'none',
      lineStyle: { color: '#000080', width: 1.6 }, itemStyle: { color: '#000080' }
    },
    {
      name: seriesNames[3], type: 'line', yAxisIndex: 1, data: brienenoord,
      showSymbol: false, symbol: 'none',
      lineStyle: { color: '#ADD8E6', width: 1.6 }, itemStyle: { color: '#ADD8E6' }
    }
  ]
};

chart.setOption(option);
</script>
</body>
</html>
